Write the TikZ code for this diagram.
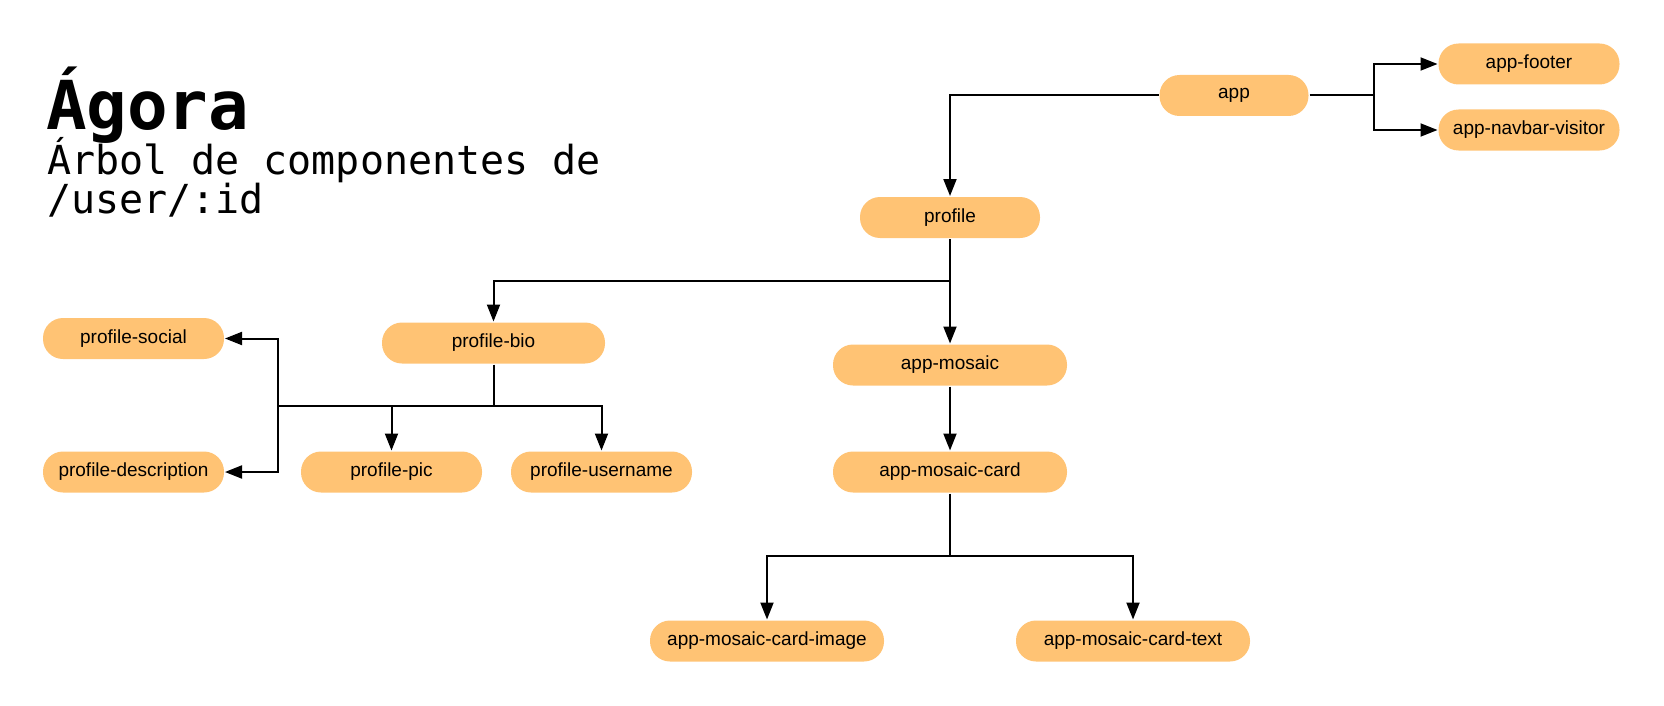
\documentclass[tikz,border=0pt]{standalone}
\usepackage{fontspec}
\setmainfont{Liberation Sans}
\newfontfamily\titlemono{DejaVu Sans Mono}
\usetikzlibrary{arrows.meta,positioning}

\definecolor{compfill}{RGB}{255,195,116}

\begin{document}
\begin{tikzpicture}[x=1pt,y=-1pt,line width=2pt,
    arr/.style={-{Triangle[length=17pt,width=13pt]}},
    comp/.style={rectangle,rounded corners=20pt,fill=compfill,inner sep=0pt,
      minimum height=41pt,minimum width=181pt,font=\fontsize{19}{23}\selectfont},
    wide/.style={minimum width=234pt},
    titletext/.style={anchor=base west,inner sep=0pt}]
  \useasboundingbox (0,0) rectangle (1664,706);

  % title
  \node[titletext,font=\titlemono\bfseries\fontsize{67.5}{67.5}\selectfont] (title) at (45,130) {Ágora};
  \node[titletext,font=\titlemono\fontsize{40}{40}\selectfont] (sub1) at (46,174) {Árbol de componentes de};
  \node[titletext,font=\titlemono\fontsize{40}{40}\selectfont] (sub2) at (46,213) {/user/:id};

  % components
  \node[comp,minimum width=149pt] (app)  at (1234,95.5) {app};
  \node[comp] (footer)  at (1529,64)  {app-footer};
  \node[comp] (navbar)  [below=23pt of footer] {app-navbar-visitor};
  \node[comp,minimum width=180pt] (profile) at (950,217.5) {profile};
  \node[comp,minimum width=223pt] (bio) at (493.5,343) {profile-bio};
  \node[comp,wide] (mosaic) at (950,365) {app-mosaic};
  \node[comp,wide] (card) at (950,472) {app-mosaic-card};
  \node[comp] (social) at (133.5,338.5) {profile-social};
  \node[comp] (description) at (133.5,472) {profile-description};
  \node[comp] (pic) at (391.5,472) {profile-pic};
  \node[comp] (username) at (601.5,472) {profile-username};
  \node[comp,wide] (image) at (767,641) {app-mosaic-card-image};
  \node[comp,wide] (text) at (1133,641) {app-mosaic-card-text};

  % forks
  \coordinate (appfork) at (1374,95.5);
  \coordinate (profork) at (950,281);
  \coordinate (biofork) at (493.5,406);
  \coordinate (biobus) at (278,406);
  \coordinate (cardfork) at (950,556);

  % connectors
  \draw[arr] (app.west) -| (profile.north);
  \draw[arr] (app.east) -- (appfork) |- (footer.west);
  \draw[arr] (appfork) |- (navbar.west);
  \draw[arr] (profile.south) -- (profork) -| (bio.north);
  \draw[arr] (profork) -- (mosaic.north);
  \draw[arr] (bio.south) -- (biofork) -| (pic.north);
  \draw[arr] (biofork) -| (username.north);
  \draw[arr] (biofork) -- (biobus) |- (social.east);
  \draw[arr] (biobus) |- (description.east);
  \draw[arr] (mosaic.south) -- (card.north);
  \draw[arr] (card.south) -- (cardfork) -| (image.north);
  \draw[arr] (cardfork) -| (text.north);
\end{tikzpicture}
\end{document}
